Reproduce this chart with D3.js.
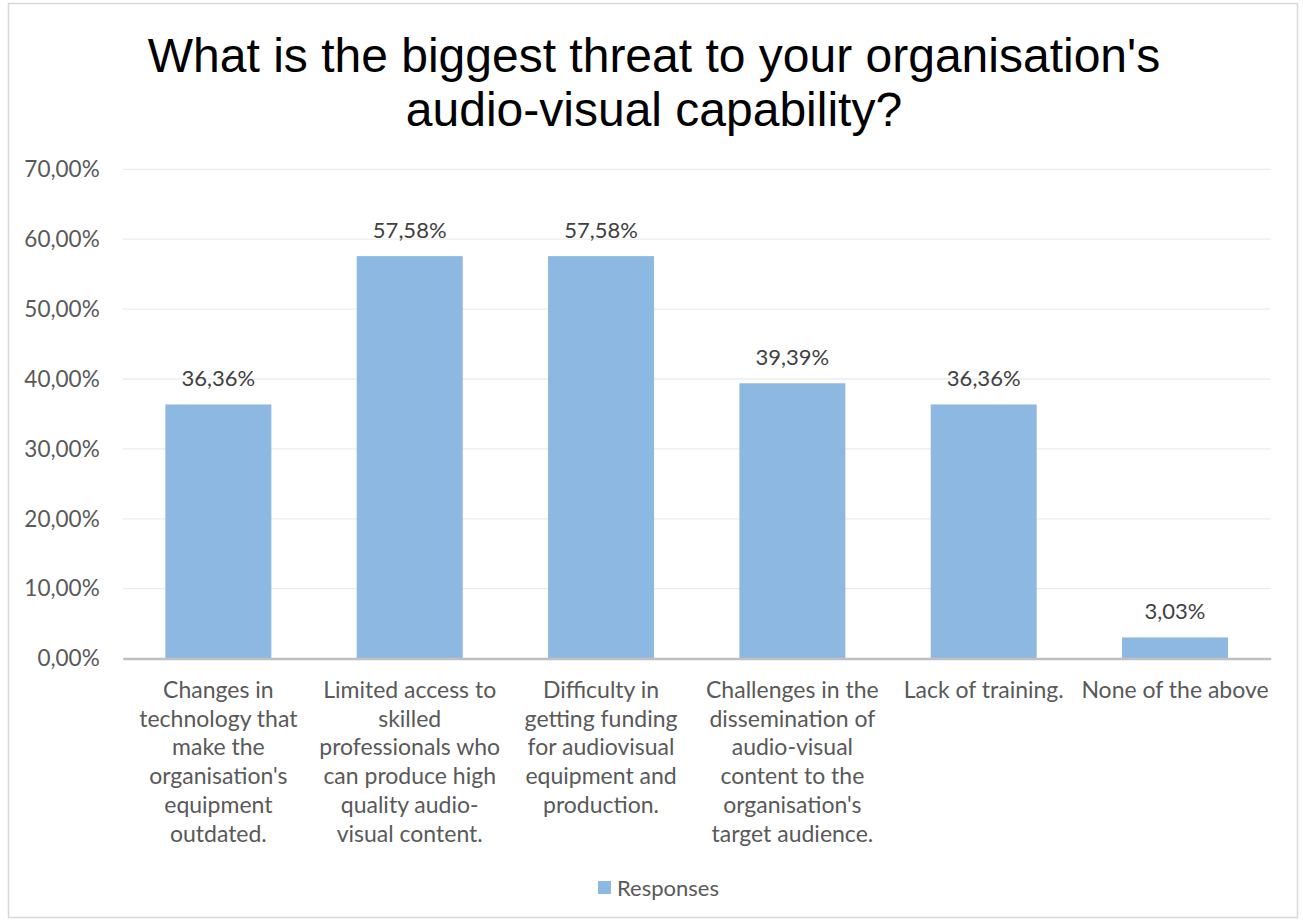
<!DOCTYPE html>
<html><head><meta charset="utf-8">
<script src="https://cdn.jsdelivr.net/npm/d3@7"></script>
<style>html,body{margin:0;padding:0;background:#fff;}</style>
</head><body>
<svg id="c" width="1303" height="921"></svg>
<script>
const categories = [
  ["Changes in","technology that","make the","organisation's","equipment","outdated."],
  ["Limited access to","skilled","professionals who","can produce high","quality audio-","visual content."],
  ["Difficulty in","getting funding","for audiovisual","equipment and","production."],
  ["Challenges in the","dissemination of","audio-visual","content to the","organisation's","target audience."],
  ["Lack of training."],
  ["None of the above"]
];
const values = [36.36, 57.58, 57.58, 39.39, 36.36, 3.03];
const yTicks = [0,10,20,30,40,50,60,70];
const titleLines = ["What is the biggest threat to your organisation's","audio-visual capability?"];
const seriesName = "Responses";

(function(){
const svg = d3.select("#c");
const pLeft=122.7,pRight=1270.7,pTop=169.3,pBottom=658.6;
const font = "Lato, 'Open Sans', sans-serif";
const txt = "#595959";
const barColor = "#8db8e2";

svg.append("rect").attr("x",8.5).attr("y",3.5).attr("width",1289).attr("height",914)
  .attr("fill","#fff").attr("stroke","#d9d9d9").attr("stroke-width",1.5);

const x = d3.scaleBand().domain(d3.range(categories.length)).range([pLeft,pRight])
  .paddingInner(0.446).paddingOuter(0.223);
const y = d3.scaleLinear().domain([0,70]).range([pBottom,pTop]);

svg.append("g").selectAll("line").data(yTicks.filter(d=>d>0)).join("line")
  .attr("x1",pLeft).attr("x2",pRight).attr("y1",d=>y(d)).attr("y2",d=>y(d))
  .attr("stroke","#ececec").attr("stroke-width",1.3);

const fmt = d=>d3.format(".2f")(d).replace(".",",")+"%";
const yAxis = d3.axisLeft(y).tickValues(yTicks).tickFormat(fmt).tickSize(0).tickPadding(23);
const ya = svg.append("g").attr("transform",`translate(${pLeft},0)`).call(yAxis);
ya.select(".domain").remove();
ya.selectAll("text").attr("font-family",font).attr("font-size",22.5).attr("fill",txt);

svg.append("g").selectAll("rect").data(values).join("rect")
  .attr("x",(d,i)=>x(i)).attr("width",x.bandwidth())
  .attr("y",d=>y(d)).attr("height",d=>y(0)-y(d)).attr("fill",barColor);

svg.append("g").selectAll("text").data(values).join("text")
  .attr("x",(d,i)=>x(i)+x.bandwidth()/2).attr("y",d=>y(d)-18)
  .attr("text-anchor","middle").attr("font-family",font).attr("font-size",22).attr("fill","#404040")
  .text(d=>d.toFixed(2).replace(".",",")+"%");

const xAxis = d3.axisBottom(x).tickSize(0).tickFormat("");
const xa = svg.append("g").attr("transform",`translate(0,${pBottom})`).call(xAxis);
xa.select(".domain").attr("stroke","#bfbfbf").attr("stroke-width",2.5);

const cl = svg.append("g");
categories.forEach((lines,i)=>{
  const t = cl.append("text").attr("text-anchor","middle").attr("font-family",font)
    .attr("font-size",23).attr("fill",txt);
  lines.forEach((ln,j)=>{
    t.append("tspan").attr("x",x(i)+x.bandwidth()/2).attr("y",698+j*28.7).text(ln);
  });
});

const tt = svg.append("text").attr("text-anchor","middle").attr("font-family","Arial, 'Liberation Sans', sans-serif")
  .attr("font-size",48).attr("fill","#000");
titleLines.forEach((ln,j)=>tt.append("tspan").attr("x",654).attr("y",72+j*53.5).text(ln));

svg.append("rect").attr("x",598).attr("y",881).attr("width",13).attr("height",13).attr("fill",barColor);
svg.append("text").attr("x",617).attr("y",896).attr("font-family",font).attr("font-size",22).attr("fill",txt).text(seriesName);
})();
</script>
</body></html>
